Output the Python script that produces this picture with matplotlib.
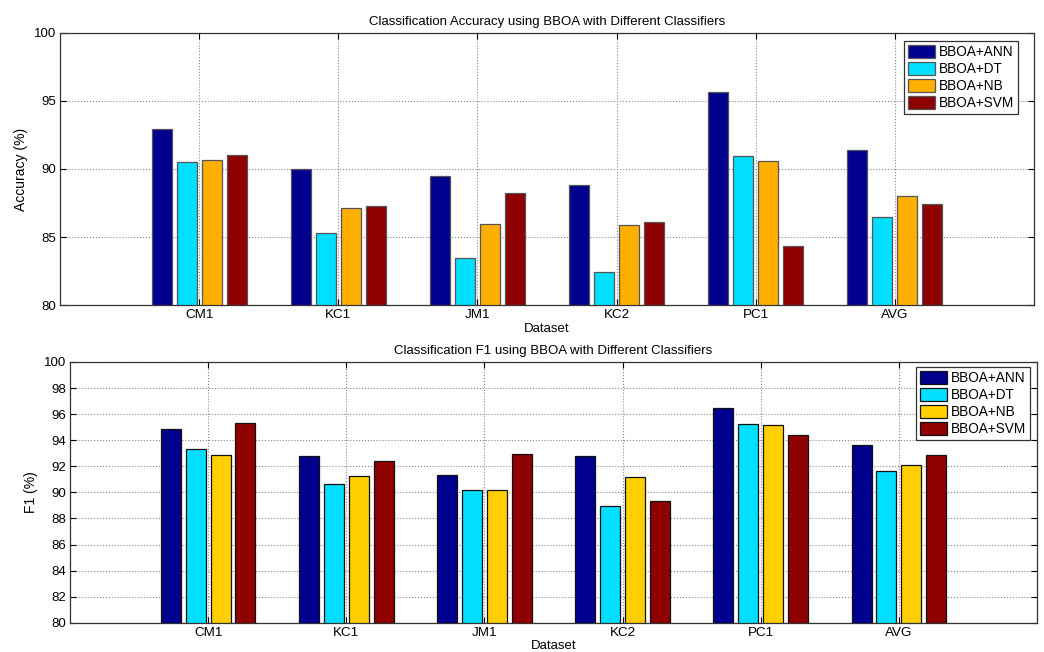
import numpy as np
import matplotlib
matplotlib.use("Agg")
import matplotlib.pyplot as plt

plt.rcParams['font.family'] = ['Liberation Sans', 'DejaVu Sans']

# data
datasets = ["CM1", "KC1", "JM1", "KC2", "PC1", "AVG"]
methods = ["BBOA+ANN", "BBOA+DT", "BBOA+NB", "BBOA+SVM"]

acc_ann = [92.95, 90.02, 89.49, 88.85, 95.69, 91.40]
acc_dt = [90.51, 85.27, 83.43, 82.45, 90.98, 86.50]
acc_nb = [90.66, 87.11, 85.96, 85.90, 90.56, 88.04]
acc_svm = [91.00, 87.25, 88.26, 86.13, 84.34, 87.40]

f1_ann = [94.86, 92.76, 91.33, 92.76, 96.44, 93.63]
f1_dt = [93.32, 90.61, 90.15, 88.95, 95.24, 91.66]
f1_nb = [92.84, 91.28, 90.15, 91.20, 95.14, 92.10]
f1_svm = [95.32, 92.43, 92.92, 89.34, 94.42, 92.89]

top_colors = ["#00008F", "#00DFFF", "#FFAF00", "#8F0000"]
bot_colors = ["#00008F", "#00DFFF", "#FFCF00", "#8F0000"]

fig = plt.figure(figsize=(10.44, 6.52), dpi=100)
ax1 = fig.add_axes([0.0575, 0.5322, 0.9329, 0.4172])
ax2 = fig.add_axes([0.0670, 0.0449, 0.9263, 0.3999])

x = np.arange(1, len(datasets) + 1)
offsets = [-0.27, -0.09, 0.09, 0.27]
width = 0.145


def draw(ax, series, colors, edge, title, ylabel, yticks, leg_anchor):
    for s, off, c, name in zip(series, offsets, colors, methods):
        ax.bar(x + off, np.array(s) - 80, width, bottom=80, color=c,
               edgecolor=edge, linewidth=0.9, label=name, zorder=3)
    ax.set_xlim(0, 7)
    ax.set_ylim(80, 100)
    ax.set_xticks(x)
    ax.set_xticklabels(datasets, fontsize=9.7)
    ax.set_yticks(yticks)
    ax.tick_params(axis='y', labelsize=9.5)
    ax.tick_params(direction='in', top=True, right=True, length=4, pad=3)
    ax.grid(True, linestyle=':', color='#888888', linewidth=0.8, zorder=0)
    ax.set_axisbelow(True)
    for sp in ax.spines.values():
        sp.set_color('#333333')
        sp.set_linewidth(0.9)
    ax.set_title(title, fontsize=9.5, pad=6)
    ax.set_ylabel(ylabel, fontsize=10, labelpad=4)
    ax.set_xlabel("Dataset", fontsize=9.5, labelpad=1)
    leg = ax.legend(loc='upper right', bbox_to_anchor=leg_anchor,
                    fontsize=9.8, fancybox=False, framealpha=1,
                    edgecolor='#333333', handlelength=2.0,
                    handleheight=1.05, labelspacing=0.22, borderpad=0.3,
                    handletextpad=0.25, borderaxespad=0)
    leg.get_frame().set_linewidth(0.9)


draw(ax1, [acc_ann, acc_dt, acc_nb, acc_svm], top_colors, '#555555',
     "Classification Accuracy using BBOA with Different Classifiers",
     "Accuracy (%)", [80, 85, 90, 95, 100], (0.9836, 0.9706))
draw(ax2, [f1_ann, f1_dt, f1_nb, f1_svm], bot_colors, '#111111',
     "Classification F1 using BBOA with Different Classifiers",
     "F1 (%)", list(range(80, 101, 2)), (0.9928, 0.9808))

fig.savefig("out.png", dpi=100)
